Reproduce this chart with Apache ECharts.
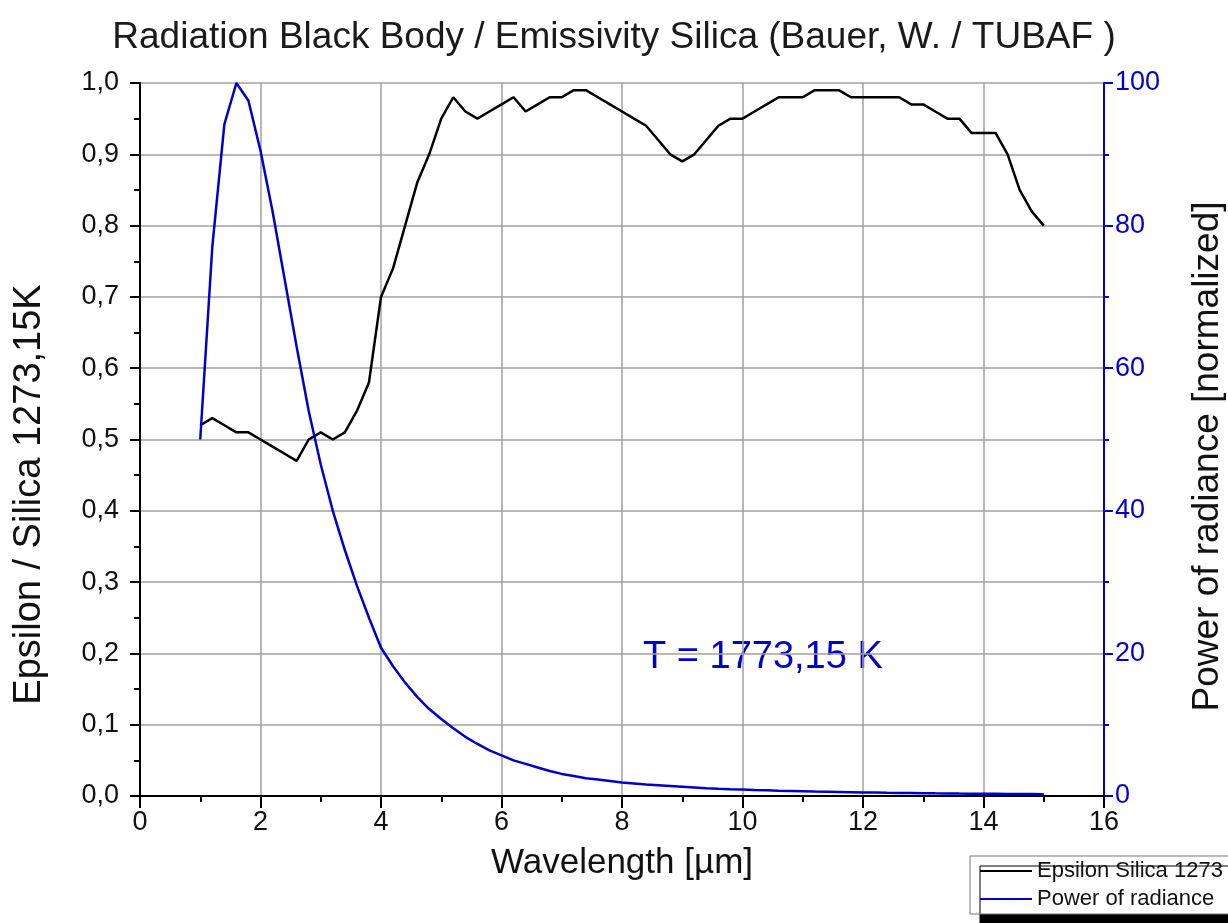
<!DOCTYPE html>
<html>
<head>
<meta charset="utf-8">
<script src="https://cdn.jsdelivr.net/npm/echarts@6/dist/echarts.min.js"></script>
<style>
body{margin:0;background:#fff;}
#chart{width:1228px;height:923px;}
</style>
</head>
<body>
<div id="chart"></div>
<script>
// wavelength in µm
var wavelength = [
	1.0,1.2,1.4,1.6,1.8, 2.0,2.2,2.4,2.6,2.8, 3.0,3.2,3.4,3.6,3.8,
	4.0,4.2,4.4,4.6,4.8, 5.0,5.2,5.4,5.6,5.8, 6.0,6.2,6.4,6.6,6.8,
	7.0,7.2,7.4,7.6,7.8, 8.0,8.2,8.4,8.6,8.8, 9.0,9.2,9.4,9.6,9.8,
	10.0,10.2,10.4,10.6,10.8, 11.0,11.2,11.4,11.6,11.8, 12.0,12.2,12.4,12.6,12.8,
	13.0,13.2,13.4,13.6,13.8, 14.0,14.2,14.4,14.6,14.8, 15.0
];
// emissivity silica 1273,15K
var epsilon = [
	0.52,0.53,0.52,0.51,0.51, 0.50,0.49,0.48,0.47,0.50, 0.51,0.50,0.51,0.54,0.58,
	0.70,0.74,0.80,0.86,0.90, 0.95,0.98,0.96,0.95,0.96, 0.97,0.98,0.96,0.97,0.98,
	0.98,0.99,0.99,0.98,0.97, 0.96,0.95,0.94,0.92,0.90, 0.89,0.90,0.92,0.94,0.95,
	0.95,0.96,0.97,0.98,0.98, 0.98,0.99,0.99,0.99,0.98, 0.98,0.98,0.98,0.98,0.97,
	0.97,0.96,0.95,0.95,0.93, 0.93,0.93,0.90,0.85,0.82, 0.80
];
// power of radiance, normalized
var power = [
	50,77,94.2,100,97.5, 90.5,82,72.5,63,54, 46.5,40,34.5,29.5,25,
	20.8,18.2,15.9,13.9,12.2, 10.8,9.5,8.3,7.3,6.4, 5.7,5.0,4.5,4.0,3.5,
	3.1,2.8,2.5,2.3,2.1, 1.9,1.75,1.6,1.5,1.4, 1.3,1.2,1.1,1.02,0.95,
	0.9,0.84,0.79,0.74,0.7, 0.66,0.62,0.59,0.56,0.53, 0.5,0.48,0.45,0.43,0.41,
	0.39,0.37,0.36,0.34,0.33, 0.31,0.3,0.29,0.28,0.27, 0.26
];

var font = '"Liberation Sans", Arial, sans-serif';
var blue = '#0000c8';

var epsData = wavelength.map(function(x, i){ return [x, epsilon[i]]; });
var powData = wavelength.map(function(x, i){ return [x, power[i]]; });

var mychart = echarts.init(document.getElementById('chart'));
var option = {
	backgroundColor: '#fff',
	animation: false,
	title: {
		text: 'Radiation Black Body / Emissivity Silica (Bauer, W. / TUBAF )',
		left: 'center',
		top: 14,
		textStyle: {fontFamily: font, fontSize: 37, fontWeight: 'normal', color: '#1a1a1a'}
	},
	grid: {left: 140, right: 124, top: 83, bottom: 127, outerBoundsMode: 'none'},
	legend: {
		orient: 'vertical',
		left: 970,
		top: 856,
		padding: [4, 40, 4, 10],
		itemGap: 6,
		itemWidth: 52,
		itemHeight: 2,
		icon: 'rect',
		backgroundColor: '#fff',
		borderColor: '#777',
		borderWidth: 1,
		shadowColor: '#000',
		shadowOffsetX: 10,
		shadowOffsetY: 10,
		shadowBlur: 0,
		textStyle: {fontFamily: font, fontSize: 22, color: '#111'},
		data: ['Epsilon Silica 1273', 'Power of radiance']
	},
	xAxis: {
		type: 'value',
		min: 0, max: 16, interval: 2,
		name: 'Wavelength [µm]',
		nameLocation: 'middle',
		nameGap: 50,
		nameTextStyle: {fontFamily: font, fontSize: 35, color: '#111'},
		axisLine: {lineStyle: {color: '#000', width: 2}},
		axisTick: {length: 12, lineStyle: {color: '#000', width: 2}},
		minorTick: {show: true, splitNumber: 2, length: 6, lineStyle: {color: '#000', width: 2}},
		axisLabel: {fontFamily: font, fontSize: 27, color: '#111', margin: 13},
		splitLine: {show: true, lineStyle: {color: '#a0a0a0', width: 1.5}}
	},
	yAxis: [{
		type: 'value',
		min: 0, max: 1, interval: 0.1,
		name: 'Epsilon / Silica 1273,15K',
		nameLocation: 'middle',
		nameRotate: 90,
		nameGap: 91,
		nameTextStyle: {fontFamily: font, fontSize: 38, color: '#111', padding: [0, 110, 0, 0]},
		axisLine: {show: true, lineStyle: {color: '#000', width: 2}},
		axisTick: {show: true, length: 10, lineStyle: {color: '#000', width: 2}},
		minorTick: {show: true, splitNumber: 2, length: 6, lineStyle: {color: '#000', width: 2}},
		axisLabel: {
			fontFamily: font, fontSize: 27, color: '#111', margin: 21,
			formatter: function(v){ return v.toFixed(1).replace('.', ','); }
		},
		splitLine: {show: true, lineStyle: {color: '#a0a0a0', width: 1.5}}
	}, {
		type: 'value',
		position: 'right',
		min: 0, max: 100, interval: 20,
		name: 'Power of radiance [normalized]',
		nameLocation: 'middle',
		nameRotate: 90,
		nameGap: 85,
		nameTextStyle: {fontFamily: font, fontSize: 37, color: '#111', padding: [0, 34, 0, 0]},
		axisLine: {show: true, lineStyle: {color: blue, width: 2}},
		axisTick: {show: true, length: 9, lineStyle: {color: blue, width: 2}},
		minorTick: {show: true, splitNumber: 2, length: 5, lineStyle: {color: blue, width: 2}},
		axisLabel: {fontFamily: font, fontSize: 27, color: blue, margin: 11},
		splitLine: {show: false}
	}],
	graphic: [{
		type: 'text',
		left: 643,
		top: 639,
		style: {text: 'T = 1773,15 K', fill: blue, fontFamily: font, fontSize: 38}
	}],
	series: [{
		name: 'Epsilon Silica 1273',
		type: 'line',
		yAxisIndex: 0,
		symbol: 'none',
		color: '#000',
		lineStyle: {color: '#000', width: 2.5},
		data: epsData
	}, {
		name: 'Power of radiance',
		type: 'line',
		yAxisIndex: 1,
		symbol: 'none',
		color: blue,
		lineStyle: {color: blue, width: 2.5},
		data: powData
	}]
};
mychart.setOption(option);
</script>
</body>
</html>
